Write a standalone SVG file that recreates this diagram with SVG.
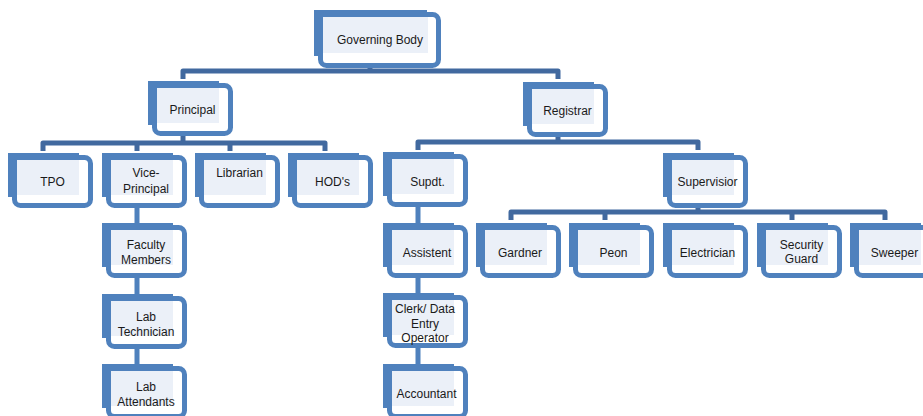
<svg xmlns="http://www.w3.org/2000/svg" xmlns:xlink="http://www.w3.org/1999/xlink" width="923" height="416" viewBox="0 0 923 416">
<style>
.back{fill:#4F81BD}
.frame{fill:#FFFFFF;stroke:#4F81BD;stroke-width:5}
.light{fill:#EBF0F8}
.bar{fill:none;stroke:#41699F;stroke-width:5;stroke-linejoin:round;stroke-linecap:butt}
.chain{fill:none;stroke:#4F81BD;stroke-width:5}
text{font-family:"Liberation Sans",Arial,sans-serif;font-size:12px;fill:#1A1A1A;text-anchor:middle}
</style>
<defs>
<g id="box">
<rect class="back" x="0" y="0" width="71" height="44"/>
<rect class="frame" x="6.5" y="4.5" width="76" height="48" rx="6"/>
<rect class="light" x="9" y="7" width="62" height="35"/>
</g>
</defs>
<rect width="923" height="416" fill="#FFFFFF"/>
<g id="connectors">
<path class="bar" d="M370 60 V71"/>
<path class="bar" d="M183 79 V71 H558 V79"/>
<path class="bar" d="M183 130 V143"/>
<path class="bar" d="M43 151 V143 H325 V151"/>
<path class="bar" d="M137 143 V151 M230 143 V151"/>
<path class="bar" d="M558 130 V142"/>
<path class="bar" d="M418 150 V142 H698 V150"/>
<path class="bar" d="M698 200 V212"/>
<path class="bar" d="M511 220 V212 H885 V220"/>
<path class="bar" d="M605 212 V220 M792 212 V220"/>
<path class="chain" d="M137 200 V226 M137 270 V296 M137 340 V366"/>
<path class="chain" d="M418 200 V226 M418 270 V296 M418 340 V366"/>
</g>
<g id="governing-body">
<rect class="back" x="314" y="10" width="113" height="46"/>
<rect class="frame" x="320.5" y="14.5" width="118" height="51" rx="6"/>
<rect class="light" x="323" y="17" width="105" height="36"/>
<text x="380" y="44">Governing Body</text>
</g>
<g id="principal"><use xlink:href="#box" x="148" y="81"/><text x="192.5" y="114">Principal</text></g>
<g id="registrar"><use xlink:href="#box" x="523" y="82"/><text x="567.5" y="115">Registrar</text></g>
<g id="tpo"><use xlink:href="#box" x="8" y="153"/><text x="52.5" y="186">TPO</text></g>
<g id="vice-principal"><use xlink:href="#box" x="102" y="153"/><text x="146" y="177">Vice-</text><text x="146" y="193">Principal</text></g>
<g id="librarian"><use xlink:href="#box" x="195" y="153"/><text x="239.5" y="177">Librarian</text></g>
<g id="hods"><use xlink:href="#box" x="288" y="153"/><text x="332.5" y="186">HOD's</text></g>
<g id="supdt"><use xlink:href="#box" x="383" y="152"/><text x="427.5" y="186">Supdt.</text></g>
<g id="supervisior"><use xlink:href="#box" x="663" y="153"/><text x="707.5" y="186">Supervisior</text></g>
<g id="faculty-members"><use xlink:href="#box" x="102" y="223"/><text x="146" y="249">Faculty</text><text x="146" y="264">Members</text></g>
<g id="lab-technician"><use xlink:href="#box" x="102" y="294"/><text x="146" y="321">Lab</text><text x="146" y="335.5">Technician</text></g>
<g id="lab-attendants"><use xlink:href="#box" x="102" y="364"/><text x="146" y="391">Lab</text><text x="146" y="406">Attendants</text></g>
<g id="assistent"><use xlink:href="#box" x="383" y="223"/><text x="427" y="257">Assistent</text></g>
<g id="clerk"><use xlink:href="#box" x="383" y="293"/><text x="425" y="313">Clerk/ Data</text><text x="425" y="327.5">Entry</text><text x="425" y="342">Operator</text></g>
<g id="accountant"><use xlink:href="#box" x="383" y="364"/><text x="426.5" y="398">Accountant</text></g>
<g id="gardner"><use xlink:href="#box" x="476" y="223"/><text x="520" y="257">Gardner</text></g>
<g id="peon"><use xlink:href="#box" x="569" y="223"/><text x="613.5" y="257">Peon</text></g>
<g id="electrician"><use xlink:href="#box" x="663" y="223"/><text x="707.5" y="257">Electrician</text></g>
<g id="security-guard"><use xlink:href="#box" x="757" y="223"/><text x="801.5" y="249">Security</text><text x="801.5" y="263">Guard</text></g>
<g id="sweeper"><use xlink:href="#box" x="850" y="223"/><text x="894.5" y="257">Sweeper</text></g>
</svg>
